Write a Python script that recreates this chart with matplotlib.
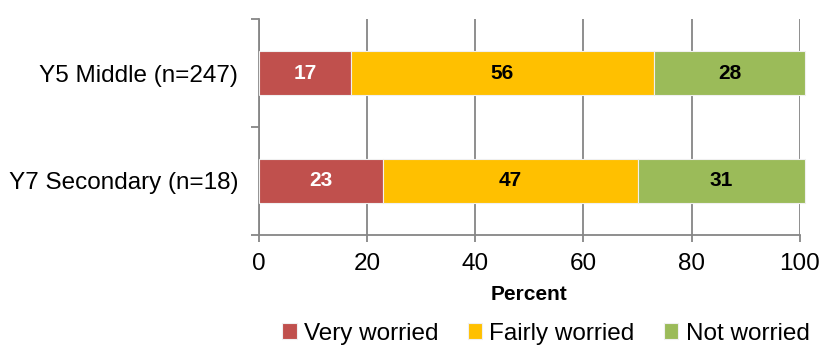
import matplotlib
matplotlib.use("Agg")
import matplotlib.pyplot as plt
import numpy as np

plt.rcParams['font.family'] = ['Liberation Sans', 'DejaVu Sans']

# Survey groups (top to bottom) and response shares in percent
groups = ["Y5 Middle (n=247)", "Y7 Secondary (n=18)"]
series_names = ["Very worried", "Fairly worried", "Not worried"]
very_worried = [17, 23]
fairly_worried = [56, 47]
not_worried = [28, 31]
colors = ["#C0504D", "#FFC000", "#9BBB59"]
label_colors = ["white", "black", "black"]
x_ticks = [0, 20, 40, 60, 80, 100]

fig = plt.figure(figsize=(8.22, 3.47), dpi=100)
ax = fig.add_axes([0.315, 0.323, 0.658, 0.622])

ypos = np.arange(len(groups))[::-1]  # first group on top
left = np.zeros(len(groups))
handles = []
for name, vals, col, lc in zip(series_names,
                               [very_worried, fairly_worried, not_worried],
                               colors, label_colors):
    bars = ax.barh(ypos, vals, left=left, height=0.4, color=col,
                   edgecolor="#f0f0f0", linewidth=0.8, label=name,
                   zorder=3, clip_on=False)
    handles.append(bars)
    for y, v, l in zip(ypos, vals, left):
        ax.text(l + v / 2, y, f"{v}", ha="center", va="center",
                fontsize=15, fontweight="bold", color=lc, zorder=4)
    left = left + np.array(vals)

ax.set_xlim(0, 100)
ax.set_ylim(-0.5, len(groups) - 0.5)
ax.set_xticks(x_ticks)
ax.set_xticklabels([str(t) for t in x_ticks], fontsize=17.5)
ax.tick_params(axis="x", direction="out", length=5, width=1.3,
               color="#868686", pad=8)

# category boundaries as major ticks, names as minor tick labels
ax.set_yticks(np.arange(-0.5, len(groups), 1.0))
ax.set_yticklabels([])
ax.tick_params(axis="y", which="major", direction="out", length=6,
               width=1.3, color="#868686")
ax.set_yticks(ypos, minor=True)
ax.set_yticklabels(groups, minor=True, fontsize=17.5)
ax.tick_params(axis="y", which="minor", length=0, pad=15)

ax.grid(axis="x", color="#868686", linewidth=1.3, zorder=0)
ax.set_axisbelow(True)
for s in ["top", "right"]:
    ax.spines[s].set_visible(False)
for s in ["left", "bottom"]:
    ax.spines[s].set_color("#868686")
    ax.spines[s].set_linewidth(1.3)

ax.set_xlabel("Percent", fontsize=15, fontweight="bold", labelpad=7)

fig.legend(handles=handles, labels=series_names, loc="lower center",
           bbox_to_anchor=(0.664, 0.0), ncol=3, frameon=False,
           fontsize=17.5, handlelength=0.6, handleheight=0.6,
           handletextpad=0.3, columnspacing=1.2, borderaxespad=0,
           borderpad=0.1)

fig.savefig("out.png", dpi=100)
